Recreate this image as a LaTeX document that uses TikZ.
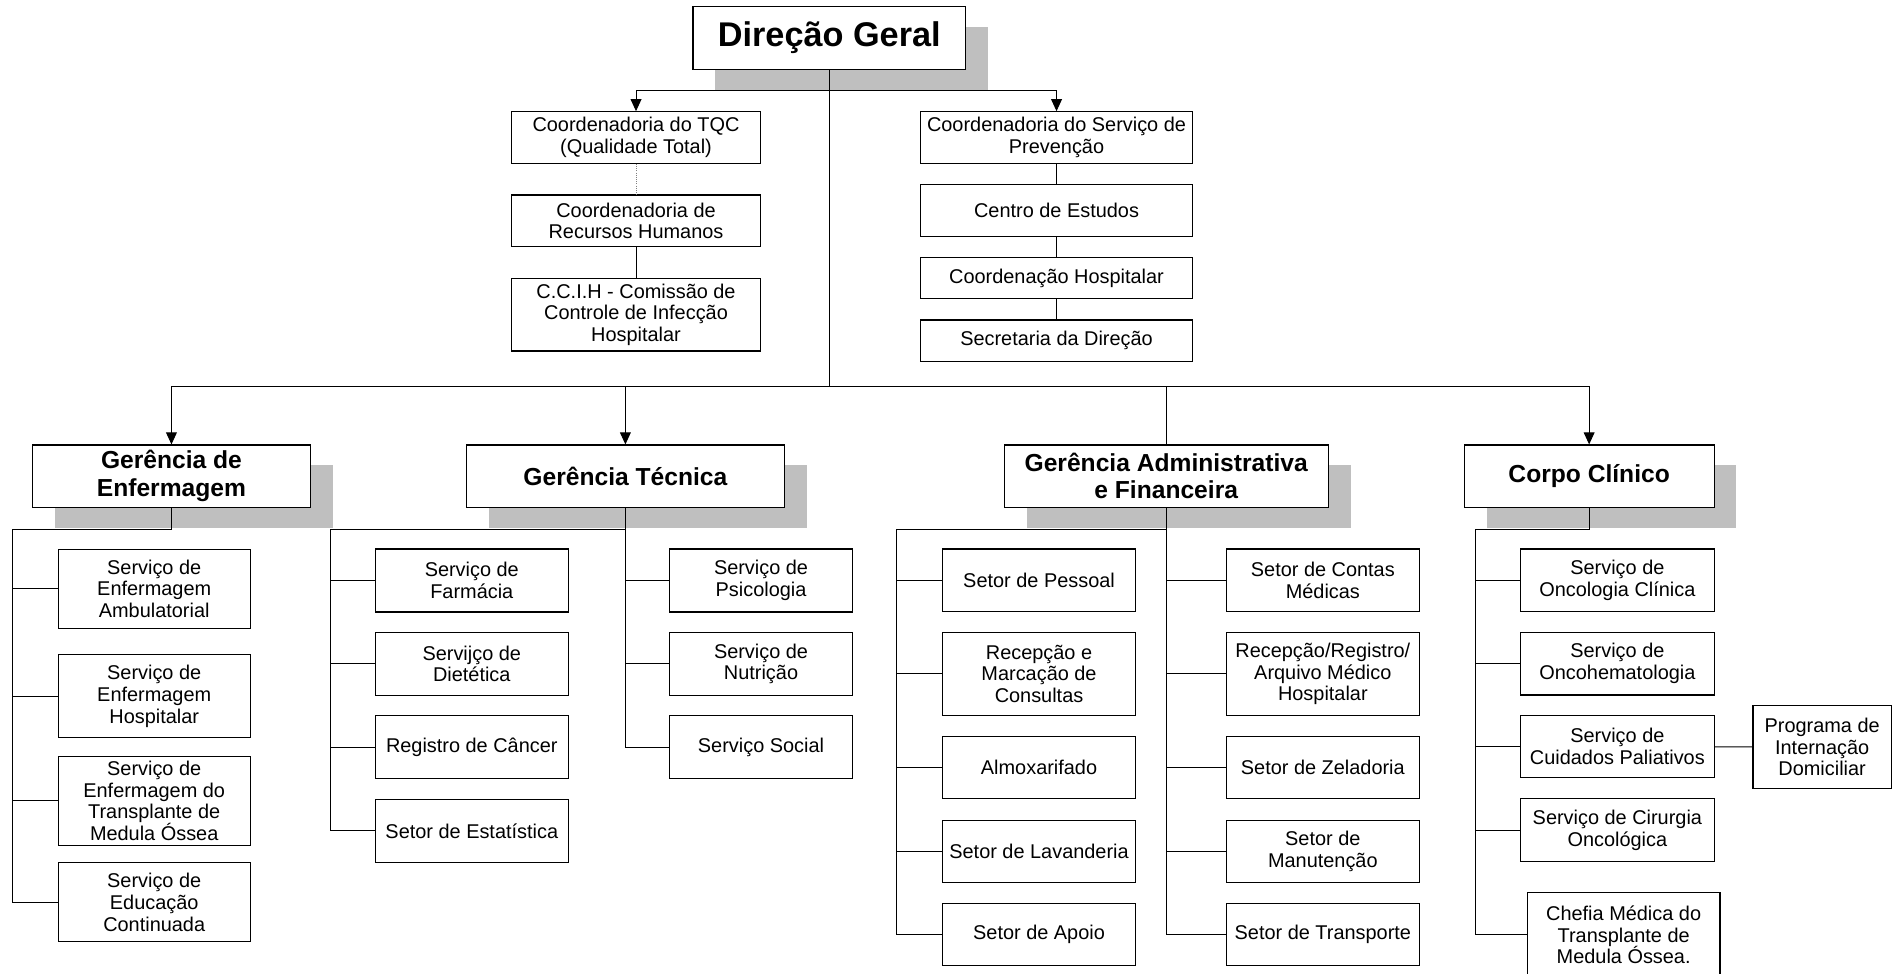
\documentclass[tikz,border=0pt]{standalone}
\usepackage{fontspec}
\setmainfont{Liberation Sans}
\usetikzlibrary{arrows.meta,shadows}

\begin{document}
\begin{tikzpicture}[x=1pt,y=-1pt,line width=0.8pt,
                caixa/.style={draw,fill=white,line width=0.9pt,align=center,inner sep=0pt,font=\fontsize{16.5}{18}\selectfont},
                gerencia/.style={caixa,font=\fontsize{20.4}{23}\selectfont\bfseries,general shadow={fill=black!25,shadow xshift=18.5pt,shadow yshift=-17pt}},
                seta/.style={-{Triangle[width=9pt,length=10pt]}}]

                \useasboundingbox (0,0) rectangle (1568,807);

                \node[gerencia,font=\fontsize{28.4}{32}\selectfont\bfseries,minimum width=226pt,minimum height=52pt] (nodeDG) at (687.3,31.5) {Direção Geral};

                \node[caixa,minimum width=207pt,minimum height=42.8pt] (nodeTQC) at (527.1,114) {Coordenadoria do TQC\\(Qualidade Total)};
                \node[caixa,minimum width=207pt,minimum height=42.8pt] (nodeRH) at (527.1,183) {Coordenadoria de\\Recursos Humanos};
                \node[caixa,minimum width=207pt,minimum height=60.2pt] (nodeCCIH) at (527.1,260.8) {C.C.I.H - Comissão de\\Controle de Infecção\\Hospitalar};

                \node[caixa,minimum width=226pt,minimum height=42.8pt] (nodePrev) at (875.6,114) {Coordenadoria do Serviço de\\Prevenção};
                \node[caixa,minimum width=226pt,minimum height=43.4pt] (nodeCE) at (875.6,174.5) {Centro de Estudos};
                \node[caixa,minimum width=226pt,minimum height=34.5pt] (nodeCH) at (875.6,230.5) {Coordenação Hospitalar};
                \node[caixa,minimum width=226pt,minimum height=34.6pt] (nodeSD) at (875.6,282.5) {Secretaria da Direção};

                \node[gerencia,minimum width=230.4pt,minimum height=51.5pt] (nodeEnf) at (142.1,394.5) {Gerência de\\Enfermagem};
                \node[gerencia,minimum width=263.4pt,minimum height=51.5pt] (nodeTec) at (518.3,394.5) {Gerência Técnica};
                \node[gerencia,minimum width=268.5pt,minimum height=51.5pt] (nodeAdm) at (966.5,394.5) {Gerência Administrativa\\e Financeira};
                \node[gerencia,minimum width=207pt,minimum height=51.5pt] (nodeCC) at (1317,394.5) {Corpo Clínico};

                \node[caixa,minimum width=159.2pt,minimum height=65pt] (nodeAmb) at (127.8,488) {Serviço de\\Enfermagem\\Ambulatorial};
                \node[caixa,minimum width=159.2pt,minimum height=69pt] (nodeHosp) at (127.8,577) {Serviço de\\Enfermagem\\Hospitalar};
                \node[caixa,minimum width=159.2pt,minimum height=73.5pt] (nodeTMO) at (127.8,663.7) {Serviço de\\Enfermagem do\\Transplante de\\Medula Óssea};
                \node[caixa,minimum width=159.2pt,minimum height=65.5pt] (nodeEduc) at (127.8,747.7) {Serviço de\\Educação\\Continuada};

                \node[caixa,minimum width=160pt,minimum height=52.2pt] (nodeFarm) at (391,481.1) {Serviço de\\Farmácia};
                \node[caixa,minimum width=160pt,minimum height=52.2pt] (nodeDiet) at (391,550.1) {Servijço de\\Dietética};
                \node[caixa,minimum width=160pt,minimum height=52.2pt] (nodeReg) at (391,619.2) {Registro de Câncer};
                \node[caixa,minimum width=160pt,minimum height=52.2pt] (nodeEst) at (391,688.6) {Setor de Estatística};
                \node[caixa,minimum width=151pt,minimum height=52.2pt] (nodePsi) at (630.7,481.1) {Serviço de\\Psicologia};
                \node[caixa,minimum width=151pt,minimum height=52.2pt] (nodeNut) at (630.7,550.1) {Serviço de\\Nutrição};
                \node[caixa,minimum width=151pt,minimum height=52.2pt] (nodeSoc) at (630.7,619.2) {Serviço Social};

                \node[caixa,minimum width=160pt,minimum height=51.8pt] (nodePess) at (861.1,480.9) {Setor de Pessoal};
                \node[caixa,minimum width=160pt,minimum height=69pt] (nodeRecM) at (861.1,558.5) {Recepção e\\Marcação de\\Consultas};
                \node[caixa,minimum width=160pt,minimum height=51.4pt] (nodeAlm) at (861.1,636.1) {Almoxarifado};
                \node[caixa,minimum width=160pt,minimum height=51.4pt] (nodeLav) at (861.1,705.3) {Setor de Lavanderia};
                \node[caixa,minimum width=160pt,minimum height=51.6pt] (nodeApo) at (861.1,774.2) {Setor de Apoio};
                \node[caixa,minimum width=160pt,minimum height=51.8pt] (nodeCont) at (1096.3,480.9) {Setor de Contas\\Médicas};
                \node[caixa,minimum width=160pt,minimum height=69pt] (nodeArq) at (1096.3,558.5) {Recepção/Registro/\\Arquivo Médico\\Hospitalar};
                \node[caixa,minimum width=160pt,minimum height=51.4pt] (nodeZel) at (1096.3,636.1) {Setor de Zeladoria};
                \node[caixa,minimum width=160pt,minimum height=51.4pt] (nodeMan) at (1096.3,705.3) {Setor de\\Manutenção};
                \node[caixa,minimum width=160pt,minimum height=51.6pt] (nodeTrp) at (1096.3,774.2) {Setor de Transporte};

                \node[caixa,minimum width=160.2pt,minimum height=52pt] (nodeOnc) at (1340.4,481) {Serviço de\\Oncologia Clínica};
                \node[caixa,minimum width=160.2pt,minimum height=52pt] (nodeHem) at (1340.4,550) {Serviço de\\Oncohematologia};
                \node[caixa,minimum width=160.2pt,minimum height=51.5pt] (nodeCuid) at (1340.4,618.8) {Serviço de\\Cuidados Paliativos};
                \node[caixa,minimum width=160.2pt,minimum height=52pt] (nodeCir) at (1340.4,688) {Serviço de Cirurgia\\Oncológica};
                \node[caixa,minimum width=159.7pt,minimum height=70.5pt] (nodeChef) at (1345.6,774.75) {Chefia Médica do\\Transplante de\\Medula Óssea.};
                \node[caixa,minimum width=114.7pt,minimum height=69pt] (nodePID) at (1510.1,619) {Programa de\\Internação\\Domiciliar};

                \coordinate (topL) at (527.1,75);
                \coordinate (topR) at (875.6,75);
                \coordinate (busMid) at (687.3,320);
                \coordinate (busA) at (142.1,320);
                \coordinate (busB) at (518.3,320);
                \coordinate (busC) at (966.5,320);
                \coordinate (busD) at (1317,320);
                \coordinate (trunkEnf) at (10.5,438.5);
                \coordinate (trunkTec) at (273.5,438.5);
                \coordinate (trunkAdm) at (743.3,438.5);
                \coordinate (trunkCC) at (1223,438.5);

                \draw (topL) -- (topR);
                \draw[seta] (topL) -- (nodeTQC);
                \draw[seta] (topR) -- (nodePrev);
                \draw[gray,densely dotted] (nodeTQC) -- (nodeRH);
                \draw (nodeRH) -- (nodeCCIH);
                \draw (nodePrev) -- (nodeCE);
                \draw (nodeCE) -- (nodeCH);
                \draw (nodeCH) -- (nodeSD);

                \draw (nodeDG) -- (busMid);
                \draw (busA) -- (busD);
                \draw[seta] (busA) -- (nodeEnf);
                \draw[seta] (busB) -- (nodeTec);
                \draw (busC) -- (nodeAdm);
                \draw[seta] (busD) -- (nodeCC);

                \draw (nodeEnf) |- (trunkEnf) |- (nodeEduc);
                \draw (nodeAmb) -- (nodeAmb -| trunkEnf);
                \draw (nodeHosp) -- (nodeHosp -| trunkEnf);
                \draw (nodeTMO) -- (nodeTMO -| trunkEnf);

                \draw (nodeTec) |- (trunkTec) |- (nodeEst);
                \draw (nodeFarm) -- (nodeFarm -| trunkTec);
                \draw (nodeDiet) -- (nodeDiet -| trunkTec);
                \draw (nodeReg) -- (nodeReg -| trunkTec);
                \draw (nodeTec) |- (nodeSoc);
                \draw (nodePsi) -- (nodePsi -| nodeTec);
                \draw (nodeNut) -- (nodeNut -| nodeTec);

                \draw (nodeAdm) |- (trunkAdm) |- (nodeApo);
                \draw (nodePess) -- (nodePess -| trunkAdm);
                \draw (nodeRecM) -- (nodeRecM -| trunkAdm);
                \draw (nodeAlm) -- (nodeAlm -| trunkAdm);
                \draw (nodeLav) -- (nodeLav -| trunkAdm);
                \draw (nodeAdm) |- (nodeTrp);
                \draw (nodeCont) -- (nodeCont -| nodeAdm);
                \draw (nodeArq) -- (nodeArq -| nodeAdm);
                \draw (nodeZel) -- (nodeZel -| nodeAdm);
                \draw (nodeMan) -- (nodeMan -| nodeAdm);

                \draw (nodeCC) |- (trunkCC) |- (nodeChef);
                \draw (nodeOnc) -- (nodeOnc -| trunkCC);
                \draw (nodeHem) -- (nodeHem -| trunkCC);
                \draw (nodeCuid) -- (nodeCuid -| trunkCC);
                \draw (nodeCir) -- (nodeCir -| trunkCC);
                \draw (nodeCuid) -- (nodePID);

            \end{tikzpicture}
\end{document}
